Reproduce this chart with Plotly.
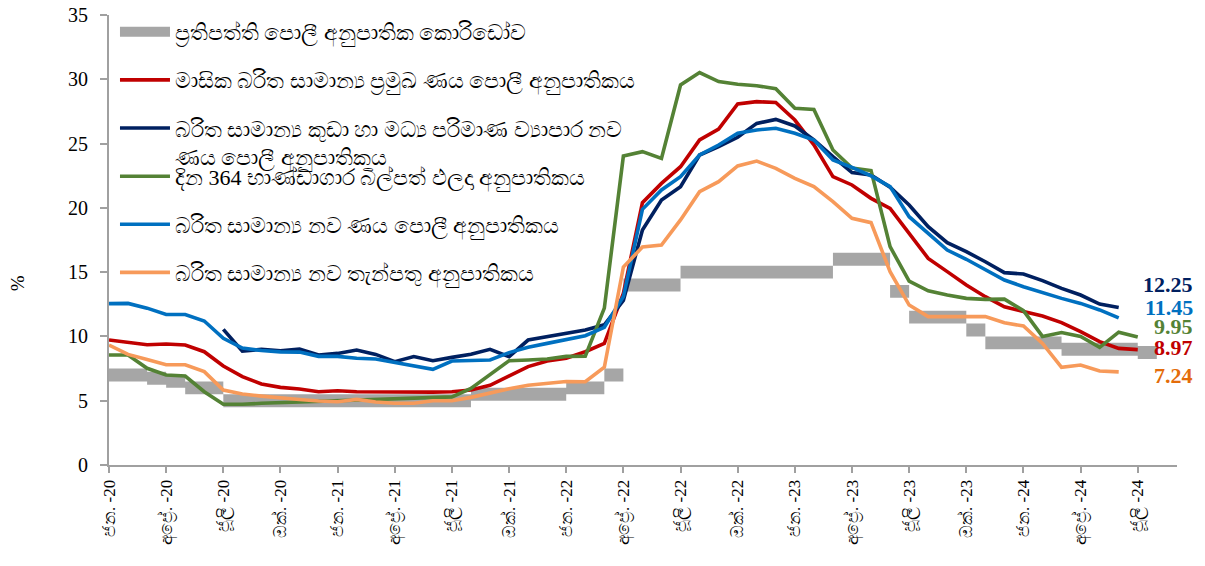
import plotly.graph_objects as go

# ---------------- data (monthly, Jan-2020 .. Jul-2024) ----------------
tick_labels = ["ජන. -20", "අප්‍රේ. -20", "ජූලි -20", "ඔක්. -20",
               "ජන. -21", "අප්‍රේ. -21", "ජූලි -21", "ඔක්. -21",
               "ජන. -22", "අප්‍රේ. -22", "ජූලි -22", "ඔක්. -22",
               "ජන. -23", "අප්‍රේ. -23", "ජූලි -23", "ඔක්. -23",
               "ජන. -24", "අප්‍රේ. -24", "ජූලි -24"]

# policy rate corridor (SDFR lower / SLFR upper)
sdfr = [6.5, 6.5, 6.25, 6.0, 5.5, 5.5,
        4.5, 4.5, 4.5, 4.5, 4.5, 4.5, 4.5, 4.5, 4.5, 4.5, 4.5, 4.5, 4.5,
        5.0, 5.0, 5.0, 5.0, 5.0,
        5.5, 5.5, 6.5,
        13.5, 13.5, 13.5,
        14.5, 14.5, 14.5, 14.5, 14.5, 14.5, 14.5, 14.5,
        15.5, 15.5, 15.5,
        13.0, 11.0, 11.0, 11.0, 10.0,
        9.0, 9.0, 9.0, 9.0,
        8.5, 8.5, 8.5, 8.5, 8.25]
slfr = [7.5, 7.5, 7.25, 7.0, 6.5, 6.5,
        5.5, 5.5, 5.5, 5.5, 5.5, 5.5, 5.5, 5.5, 5.5, 5.5, 5.5, 5.5, 5.5,
        6.0, 6.0, 6.0, 6.0, 6.0,
        6.5, 6.5, 7.5,
        14.5, 14.5, 14.5,
        15.5, 15.5, 15.5, 15.5, 15.5, 15.5, 15.5, 15.5,
        16.5, 16.5, 16.5,
        14.0, 12.0, 12.0, 12.0, 11.0,
        10.0, 10.0, 10.0, 10.0,
        9.5, 9.5, 9.5, 9.5, 9.25]

awpr_monthly = [9.72, 9.54, 9.35, 9.41, 9.33, 8.81, 7.70, 6.87, 6.30, 6.04,
                5.91, 5.70, 5.78, 5.70, 5.68, 5.65, 5.65, 5.67, 5.70, 5.83,
                6.20, 6.90, 7.65, 8.09, 8.30, 8.81, 9.46, 13.35, 20.40, 21.90,
                23.20, 25.28, 26.13, 28.08, 28.26, 28.20, 26.83, 24.90, 22.43, 21.78,
                20.74, 19.96, 18.02, 16.07, 15.04, 14.00, 13.09, 12.31, 11.93, 11.59,
                11.07, 10.37, 9.59, 9.07, 8.97]

awnlr_sme = [None, None, None, None, None, None, 10.55, 8.85, 9.00, 8.89,
             9.02, 8.55, 8.68, 8.94, 8.60, 8.04, 8.43, 8.11, 8.37, 8.61,
             9.00, 8.43, 9.72, 9.98, 10.24, 10.50, 10.90, 12.80, 18.28, 20.60,
             21.65, 24.11, 24.76, 25.49, 26.57, 26.88, 26.37, 25.28, 23.98, 22.74,
             22.56, 21.60, 20.22, 18.54, 17.29, 16.59, 15.81, 14.96, 14.86, 14.34,
             13.74, 13.22, 12.52, 12.25]

tbill_364 = [8.55, 8.55, 7.52, 7.00, 6.92, 5.70, 4.72, 4.72, 4.80, 4.85,
             4.90, 4.92, 4.98, 5.05, 5.10, 5.18, 5.20, 5.26, 5.30, 5.95,
             7.00, 8.11, 8.17, 8.24, 8.45, 8.47, 12.20, 24.03, 24.37, 23.85,
             29.56, 30.52, 29.82, 29.61, 29.50, 29.27, 27.74, 27.66, 24.50, 23.10,
             22.90, 16.98, 14.30, 13.55, 13.22, 12.96, 12.88, 12.90, 12.00, 10.00,
             10.30, 10.00, 9.15, 10.33, 9.95]

awnlr = [12.55, 12.57, 12.20, 11.70, 11.70, 11.20, 9.85, 9.10, 8.90, 8.80,
         8.78, 8.45, 8.45, 8.30, 8.24, 7.95, 7.70, 7.44, 8.09, 8.12,
         8.17, 8.74, 9.15, 9.46, 9.77, 10.06, 10.71, 13.10, 19.89, 21.39,
         22.43, 24.11, 24.89, 25.80, 26.06, 26.19, 25.80, 25.28, 23.72, 23.15,
         22.48, 21.65, 19.31, 18.02, 16.72, 16.00, 15.17, 14.39, 13.87, 13.40,
         12.96, 12.57, 12.06, 11.45]

awndr = [9.33, 8.60, 8.20, 7.80, 7.80, 7.26, 5.83, 5.52, 5.36, 5.26,
         5.10, 4.98, 4.92, 5.10, 4.90, 4.80, 4.80, 5.00, 5.00, 5.26,
         5.60, 5.93, 6.20, 6.38, 6.50, 6.48, 7.60, 15.40, 16.95, 17.10,
         19.06, 21.26, 22.04, 23.26, 23.64, 23.07, 22.30, 21.65, 20.48, 19.19,
         18.85, 15.04, 12.44, 11.54, 11.54, 11.54, 11.54, 11.07, 10.81, 9.46,
         7.60, 7.78, 7.31, 7.24]

names = {
    "corr": "ප්‍රතිපත්ති පොලී අනුපාතික කොරිඩෝව",
    "awpr": "මාසික බරිත සාමාන්‍ය ප්‍රමුඛ ණය පොලී අනුපාතිකය",
    "sme": "බරිත සාමාන්‍ය කුඩා හා මධ්‍ය පරිමාණ ව්‍යාපාර නව<br>ණය පොලී අනුපාතිකය",
    "tb": "දින 364 භාණ්ඩාගාර බිල්පත් ඵලදා අනුපාතිකය",
    "awnlr": "බරිත සාමාන්‍ය නව ණය පොලී අනුපාතිකය",
    "awndr": "බරිත සාමාන්‍ය නව තැන්පතු අනුපාතිකය",
}

# ---------------- style ----------------
GRAY = "#A6A6A6"
RED = "#C00000"
NAVY = "#002060"
GREEN = "#548235"
BLUE = "#0070C0"
ORANGE = "#F79A5A"
SERIF = "Liberation Serif, Times New Roman, serif"
LW = 3.6

fig = go.Figure()

# corridor as a stepped band
xs = list(range(len(sdfr) + 1))
fig.add_trace(go.Scatter(x=xs, y=sdfr + [sdfr[-1]], mode="lines", line=dict(width=0, shape="hv"),
                         showlegend=False, hoverinfo="skip"))
fig.add_trace(go.Scatter(x=xs, y=slfr + [slfr[-1]], mode="lines", line=dict(width=0, shape="hv"),
                         fill="tonexty", fillcolor=GRAY, showlegend=False, hoverinfo="skip"))
# legend entry for the corridor
fig.add_trace(go.Scatter(x=[None], y=[None], mode="lines", line=dict(color=GRAY, width=12),
                         name=names["corr"], legend="legend", legendgroup="g0"))

series = [
    (awpr_monthly, RED, names["awpr"], "legend", "g1"),
    (awnlr_sme, NAVY, names["sme"], "legend", "g2"),
    (tbill_364, GREEN, names["tb"], "legend2", "g3"),
    (awnlr, BLUE, names["awnlr"], "legend2", "g4"),
    (awndr, ORANGE, names["awndr"], "legend2", "g5"),
]
for vals, col, nm, lg, grp in series:
    fig.add_trace(go.Scatter(x=list(range(len(vals))), y=vals, mode="lines",
                             line=dict(color=col, width=LW), name=nm,
                             legend=lg, legendgroup=grp, connectgaps=False))

# end labels
end_labels = [
    (awnlr_sme, NAVY, 23),
    (awnlr, BLUE, 10),
    (tbill_364, GREEN, 11),
    (awpr_monthly, RED, 2),
    (awndr, "#E46C0A", -4),
]
for vals, col, ys in end_labels:
    v = [a for a in vals if a is not None][-1]
    fig.add_annotation(x=1.017, xref="paper", y=v, yref="y", yshift=ys,
                       text="<b>%.2f</b>" % v, showarrow=False, xanchor="right",
                       font=dict(family=SERIF, size=22, color=col))

fig.add_annotation(x=-0.086, xref="paper", y=0.404, yref="paper", text="%",
                   textangle=-90, showarrow=False, xanchor="center", yanchor="middle",
                   font=dict(family=SERIF, size=19, color="black"))

legend_font = dict(family=SERIF, size=22, color="black")
fig.update_layout(
    width=1197, height=558,
    margin=dict(l=101, r=28, t=7, b=101, autoexpand=False),
    plot_bgcolor="white", paper_bgcolor="white",
    showlegend=True,
    legend=dict(x=0.0056, y=1.009, xanchor="left", yanchor="top", font=legend_font,
                bgcolor="rgba(0,0,0,0)", tracegroupgap=16.5, valign="top",
                traceorder="grouped", itemwidth=50),
    legend2=dict(x=0.0056, y=0.688, xanchor="left", yanchor="top", font=legend_font,
                 bgcolor="rgba(0,0,0,0)", tracegroupgap=16.5, valign="top",
                 traceorder="grouped", itemwidth=50),
    xaxis=dict(range=[0, 56.06], tickmode="array", automargin=False,
               tickvals=list(range(0, 3 * len(tick_labels), 3)), ticktext=tick_labels,
               tickangle=-90, ticks="outside", ticklen=6, tickwidth=1.5, tickcolor="#A0A0A0",
               showline=True, linecolor="#A0A0A0", linewidth=2, showgrid=False, zeroline=False,
               tickfont=dict(family=SERIF, size=17, color="black")),
    yaxis=dict(range=[0, 35], dtick=5, ticks="outside", ticklen=7, tickwidth=1.5, automargin=False,
               tickcolor="#A0A0A0", showline=True, linecolor="#A0A0A0", linewidth=2,
               showgrid=False, zeroline=False, ticklabelstandoff=8, ticklabeloverflow="allow",
               tickfont=dict(family=SERIF, size=20, color="black")),
)

fig.write_html("out.html")
